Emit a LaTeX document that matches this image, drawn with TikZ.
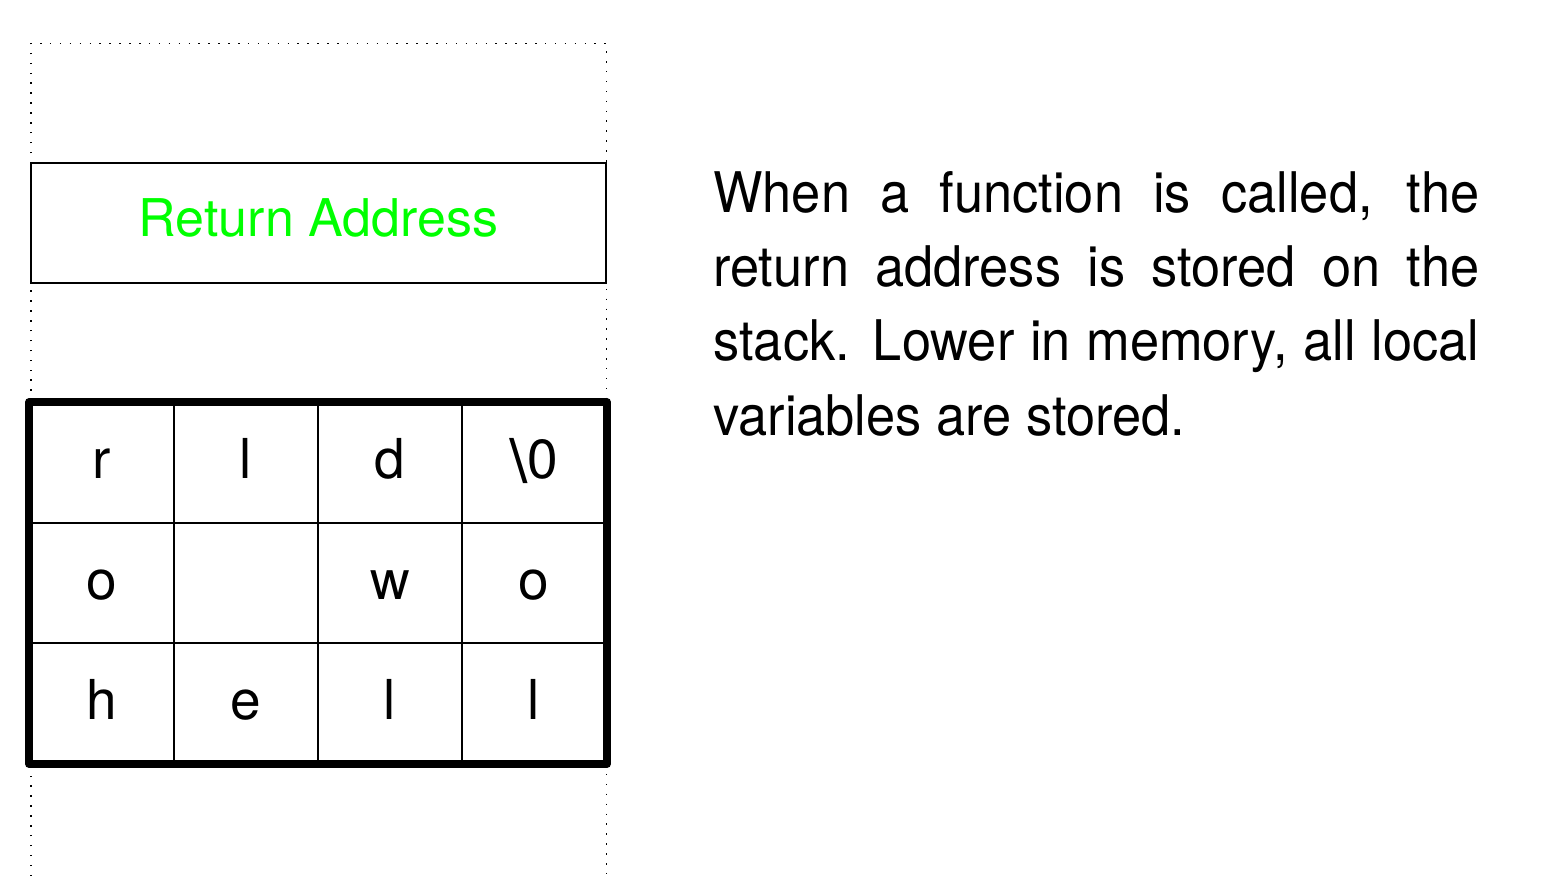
\documentclass[tikz,border=0pt]{standalone}
\usepackage{fontspec}
\setmainfont{TeX Gyre Heros}
\newfontfamily\condfont[FakeStretch=0.935]{TeX Gyre Heros}
\newfontfamily\bsfont{DejaVu Sans}
\setlength\parindent{0pt}
\definecolor{ragreen}{RGB}{0,255,0}
\tikzset{
  dotframe/.style={line width=0.75pt, dash pattern=on 0.75pt off 4.2pt},
  cell/.style={draw, line width=1pt, minimum width=72pt, minimum height=60pt,
    inner sep=0pt, text height=16pt, text depth=0pt,
    font=\fontsize{27.5}{31}\selectfont},
  retbox/.style={draw, line width=0.75pt, minimum width=287.5pt, minimum height=60pt,
    inner sep=0pt, text height=13.7pt, text depth=0pt, text=ragreen,
    font=\fontsize{26}{31}\selectfont},
  para/.style={anchor=north west, inner sep=0pt, text width=383pt, align=justify,
    font=\condfont\fontsize{28}{37.15}\selectfont},
  outer/.style={line width=3.75pt, line join=round}
}
\begin{document}
\begin{tikzpicture}[x=0.5pt, y=-0.5pt]
\useasboundingbox (0,0) rectangle (1556,876);
\draw[dotframe] (31,876) -- (31,43.5) -- (606.5,43.5) -- (606.5,876);
\node[retbox, fill=white] (ret) at (318.5,223) {Return Address};
% grid cells
\node[cell, fill=white] (c11) at (102,463) {r};
\node[cell, fill=white] (c12) at (246,463) {l};
\node[cell, fill=white] (c13) at (390,463) {d};
\node[cell, fill=white] (c14) at (534,463) {{\bsfont\textbackslash}0};
\node[cell, fill=white] (c21) at (102,583) {o};
\node[cell, fill=white] (c22) at (246,583) {};
\node[cell, fill=white] (c23) at (390,583) {w};
\node[cell, fill=white] (c24) at (534,583) {o};
\node[cell, fill=white] (c31) at (102,703) {h};
\node[cell, fill=white] (c32) at (246,703) {e};
\node[cell, fill=white] (c33) at (390,703) {l};
\node[cell, fill=white] (c34) at (534,703) {l};
\draw[outer] (c11.north west) rectangle (c34.south east);
\node[para] (txt) at (713,159.7) {\strut When a function is called, the\linebreak
return address is stored on the\linebreak
stack. Lower in memory, all local\linebreak
variables are stored.};
\end{tikzpicture}
\end{document}
